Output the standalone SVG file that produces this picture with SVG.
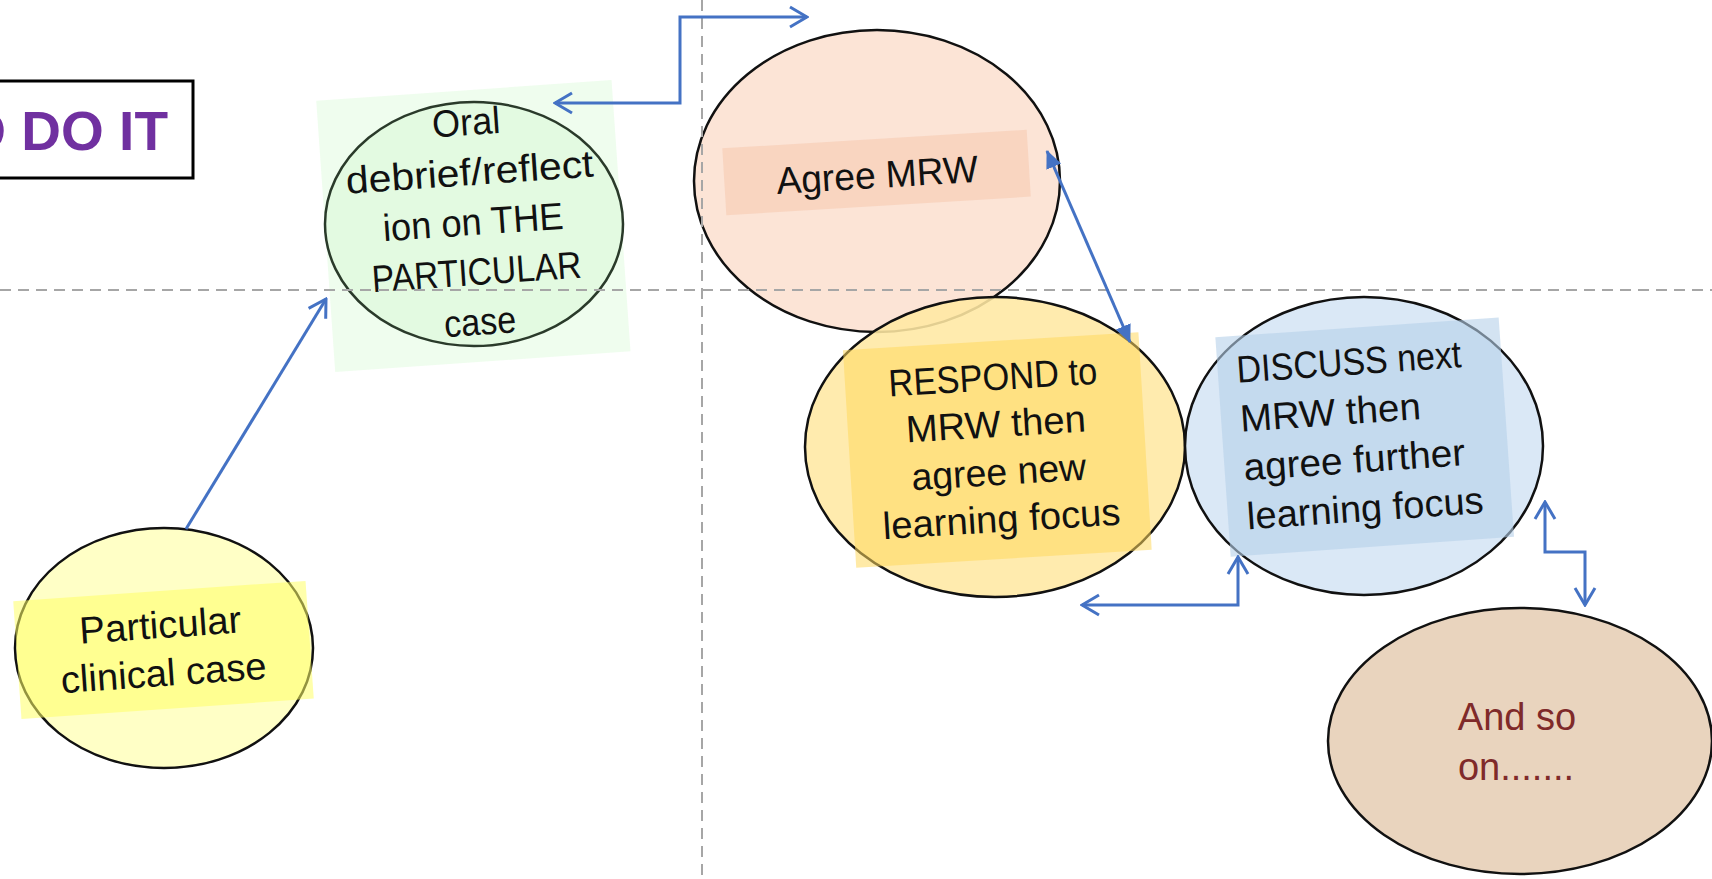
<svg xmlns="http://www.w3.org/2000/svg" width="1712" height="879" viewBox="0 0 1712 879">
  <style>
    .node-outline { stroke: #111; stroke-width: 2.5; }
    .label { font-family: "Liberation Sans", Arial, sans-serif; font-size: 38px; fill: #111; }
    .mid { text-anchor: middle; }
    .guide { stroke: #A6A6A6; stroke-width: 2; stroke-dasharray: 11 7; fill: none; }
    .link { stroke: #4472C4; stroke-width: 3; fill: none; stroke-linejoin: miter; }
  </style>
  <defs>
    <marker id="chev" viewBox="0 0 20 24" refX="18" refY="12" markerWidth="20" markerHeight="24" markerUnits="userSpaceOnUse" orient="auto-start-reverse">
      <path d="M1,2 L18,12 L1,22" fill="none" stroke="#4472C4" stroke-width="3"/>
    </marker>
    <marker id="tri" viewBox="0 0 18 18" refX="17" refY="9" markerWidth="18" markerHeight="18" markerUnits="userSpaceOnUse" orient="auto-start-reverse">
      <path d="M0,1 L18,9 L0,17 Z" fill="#4472C4"/>
    </marker>
  </defs>

  <rect width="1712" height="879" fill="#FFFFFF"/>

  <!-- title box -->
  <g id="title">
    <rect x="-6" y="81" width="199" height="97" fill="#FFFFFF" stroke="#000" stroke-width="3"/>
    <text x="168" y="150" text-anchor="end" font-family="'Liberation Sans', Arial, sans-serif" font-weight="bold" font-size="55" fill="#7030A0">O DO IT</text>
  </g>

  <!-- particular clinical case -->
  <g id="node-case">
    <ellipse cx="164" cy="648" rx="149" ry="120" fill="#FFFFC6" class="node-outline"/>
    <g transform="rotate(-4 163 650)">
      <rect x="17" y="591" width="293" height="118" fill="#FFFF66" fill-opacity="0.55"/>
      <text class="label mid" x="162" y="638" textLength="162" lengthAdjust="spacingAndGlyphs">Particular</text>
      <text class="label mid" x="162" y="686" textLength="206" lengthAdjust="spacingAndGlyphs">clinical  case</text>
    </g>
  </g>

  <!-- oral debrief -->
  <g id="node-debrief">
    <ellipse cx="474" cy="224" rx="149" ry="122" fill="#E2F7DE"/>
    <g transform="rotate(-4 474 235)">
      <rect x="326" y="90" width="296" height="272" fill="#E4FBE2" fill-opacity="0.6"/>
    </g>
    <ellipse cx="474" cy="224" rx="149" ry="122" fill="none" stroke="#2A3A2A" stroke-width="2.5"/>
    <g transform="rotate(-4 474 235)">
      <text class="label mid" x="474" y="135" font-size="40" textLength="68" lengthAdjust="spacingAndGlyphs">Oral</text>
      <text class="label mid" x="474" y="185" font-size="40" textLength="248" lengthAdjust="spacingAndGlyphs">debrief/reflect</text>
      <text class="label mid" x="474" y="235" font-size="40" textLength="181" lengthAdjust="spacingAndGlyphs">ion on THE</text>
      <text class="label mid" x="474" y="285" font-size="40" textLength="210" lengthAdjust="spacingAndGlyphs">PARTICULAR</text>
      <text class="label mid" x="474" y="335" font-size="40" textLength="72" lengthAdjust="spacingAndGlyphs">case</text>
    </g>
  </g>

  <!-- agree MRW -->
  <g id="node-agree">
    <ellipse cx="877" cy="181" rx="183" ry="151" fill="#FCE4D6" class="node-outline"/>
    <g transform="rotate(-3.5 876 172)">
      <rect x="724" y="139" width="305" height="67" fill="#F6C9AE" fill-opacity="0.55"/>
      <text class="label mid" x="877" y="188" textLength="202" lengthAdjust="spacingAndGlyphs">Agree MRW</text>
    </g>
  </g>

  <!-- respond -->
  <g id="node-respond">
    <ellipse cx="995" cy="447" rx="190" ry="150" fill="#FFE8A3" fill-opacity="0.88" class="node-outline"/>
    <g transform="rotate(-3.5 998 461)">
      <rect x="850" y="341" width="296" height="218" fill="#FFD95E" fill-opacity="0.55"/>
      <text class="label mid" x="998" y="390" textLength="209" lengthAdjust="spacingAndGlyphs">RESPOND to</text>
      <text class="label mid" x="998" y="437" textLength="180" lengthAdjust="spacingAndGlyphs">MRW then</text>
      <text class="label mid" x="998" y="485" textLength="175" lengthAdjust="spacingAndGlyphs">agree new</text>
      <text class="label mid" x="998" y="532" textLength="238" lengthAdjust="spacingAndGlyphs">learning focus</text>
    </g>
  </g>

  <!-- discuss -->
  <g id="node-discuss">
    <ellipse cx="1364" cy="446" rx="179" ry="149" fill="#DAE8F6" class="node-outline"/>
    <g transform="rotate(-4 1366 456)">
      <rect x="1224" y="327" width="284" height="220" fill="#B6D0EA" fill-opacity="0.6"/>
      <text class="label" x="1243" y="374" textLength="225" lengthAdjust="spacingAndGlyphs">DISCUSS next</text>
      <text class="label" x="1243" y="423" textLength="181" lengthAdjust="spacingAndGlyphs">MRW then</text>
      <text class="label" x="1243" y="472" textLength="222" lengthAdjust="spacingAndGlyphs">agree further</text>
      <text class="label" x="1243" y="521" textLength="237" lengthAdjust="spacingAndGlyphs">learning focus</text>
    </g>
  </g>

  <!-- and so on -->
  <g id="node-next">
    <ellipse cx="1520" cy="741" rx="192" ry="133" fill="#E9D4BE" class="node-outline"/>
    <text class="label mid" x="1517" y="730" style="fill:#7F2A2A">And so</text>
    <text class="label mid" x="1516" y="780" style="fill:#7F2A2A">on.......</text>
  </g>

  <!-- quadrant guides -->
  <g id="guides">
    <line class="guide" x1="702" y1="0" x2="702" y2="879"/>
    <line class="guide" x1="0" y1="290" x2="1712" y2="290"/>
  </g>

  <!-- connectors -->
  <g id="connectors">
    <path class="link" d="M186,529 L326,299" marker-end="url(#chev)"/>
    <path class="link" d="M555,103 L680,103 L680,17 L807,17" marker-start="url(#chev)" marker-end="url(#chev)"/>
    <path class="link" d="M1047,151 L1130,342" marker-start="url(#tri)" marker-end="url(#tri)"/>
    <path class="link" d="M1082,605 L1238,605 L1238,557" marker-start="url(#chev)" marker-end="url(#chev)"/>
    <path class="link" d="M1545,502 L1545,552 L1585,552 L1585,605" marker-start="url(#chev)" marker-end="url(#chev)"/>
  </g>
</svg>
